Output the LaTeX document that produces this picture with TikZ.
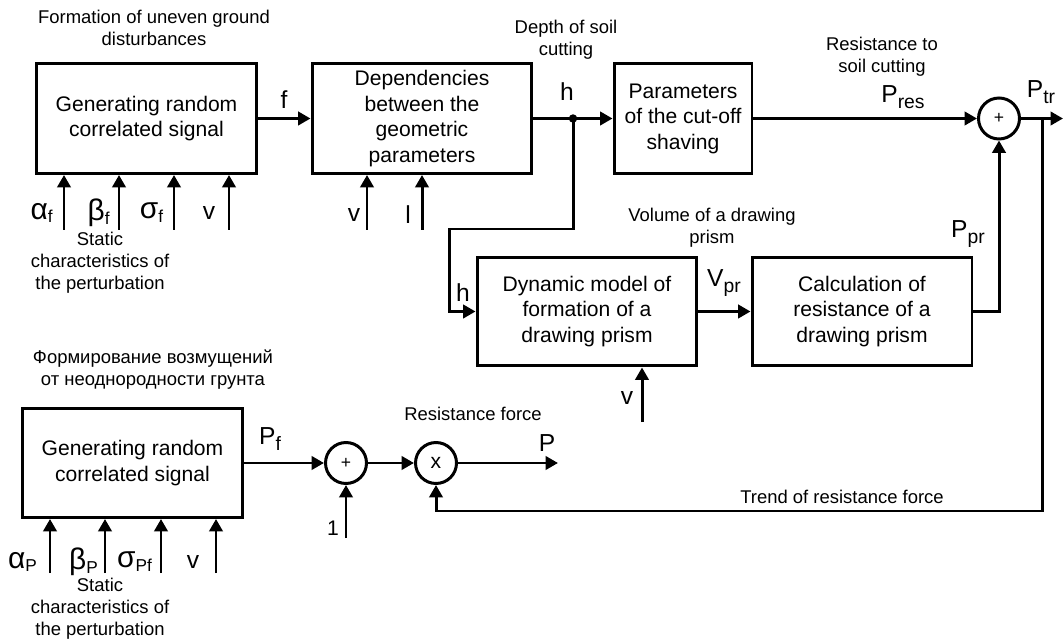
\documentclass[tikz,border=0pt]{standalone}
\usepackage{fontspec}
\setmainfont{Liberation Sans}
\usetikzlibrary{arrows.meta}
\newcommand{\lowsub}[1]{\raisebox{-3.5pt}{\fontsize{11}{11}\selectfont#1}}
\newcommand{\gr}[1]{{\fontsize{17}{17}\selectfont#1}}

\begin{document}
\begin{tikzpicture}[x=0.02cm, y=-0.02cm,
  box/.style={draw, line width=1.7pt, align=center, inner sep=0pt,
              font=\fontsize{12}{14.5}\selectfont, minimum height=2.2cm},
  sum/.style={draw, circle, line width=1.7pt, minimum size=0.82cm, inner sep=0pt},
  sig/.style={font=\fontsize{14}{16}\selectfont, inner sep=0pt},
  note/.style={align=center, font=\fontsize{10.5}{12.5}\selectfont, inner sep=0pt},
  arr/.style={-{Triangle[length=7pt, width=7.5pt]}, line width=1.7pt}]
\useasboundingbox (0,0) rectangle (1064,641);
% upper chain
\node[box, minimum width=4.42cm] (gen) at (146.5,118.5) {Generating random\\correlated signal};
\node[box, minimum width=4.4cm] (dep) at (422,118.5) {Dependencies\\between the\\geometric\\parameters};
\node[box, minimum width=2.76cm] (cut) at (683,118.5) {Parameters\\of the cut-off\\shaving};
\node[sum] (s1) at (999,118.5) {\fontsize{10}{10}\selectfont +};
\node[box, minimum width=4.4cm, minimum height=2.18cm] (dyn) at (587,311.5) {Dynamic model of\\formation of a\\drawing prism};
\node[box, minimum width=4.4cm, minimum height=2.18cm] (calc) at (862,311.5) {Calculation of\\resistance of a\\drawing prism};
% lower chain
\node[box, minimum width=4.42cm, minimum height=2.18cm] (gen2) at (132.5,463) {Generating random\\correlated signal};
\node[sum] (s2) at (346,463) {\fontsize{10}{10}\selectfont +};
\node[sum] (mul) at (436,463) {\fontsize{12}{12}\selectfont x};
\coordinate (dot) at (573,118.5);
\coordinate (hl) at (449,229);
\coordinate (out) at (1063,118.5);
\coordinate (tap) at (1042,118.5);
\coordinate (fb) at (1042,511);
\coordinate (pout) at (558,463);
\coordinate (one) at (346,538);
\coordinate (vin) at (642,422);
\draw[arr] (gen) -- (dep);
\draw[arr] (dep) -- (cut);
\fill (dot) circle (2.4pt);
\draw[arr] (dot) |- (hl) |- (dyn.west);
\draw[arr] (cut) -- (s1);
\draw[arr] (s1) -- (out);
\draw[arr] (dyn) -- (calc);
\draw[arr] (calc) -| (s1);
\draw[arr] (tap) -- (fb) -| (mul);
\draw[arr] (gen2) -- (s2);
\draw[arr] (s2) -- (mul);
\draw[arr] (mul) -- (pout);
\draw[arr] (one) -- (s2);
\draw[arr] (vin) -- (vin |- dyn.south);
% inputs
\foreach \x/\lx/\t in {64/42/{\gr{α}\textsubscript{f}}, 119/99/{\gr{β}\textsubscript{f}}, 174/152/{\gr{σ}\textsubscript{f}}, 229/209/v}{
  \coordinate (ia\x) at (\x,230);
  \draw[arr] (ia\x) -- (ia\x |- gen.south);
  \node[sig] (la\x) at (\lx,213) {\t};
}
\foreach \x/\lx/\t in {367/354/v, 422/408/l}{
  \coordinate (ib\x) at (\x,230);
  \draw[arr] (ib\x) -- (ib\x |- dep.south);
  \node[sig] (lb\x) at (\lx,215) {\t};
}
\foreach \x/\lx/\t in {50/23/{\gr{α}\textsubscript{P}}, 105/84/{\gr{β}\textsubscript{P}}, 161/135/{\gr{σ}\textsubscript{Pf}}, 216/193/v}{
  \coordinate (ic\x) at (\x,573);
  \draw[arr] (ic\x) -- (ic\x |- gen2.south);
  \node[sig] (lc\x) at (\lx,562) {\t};
}
% labels
\node[note] (tform) at (154,28) {Formation of uneven ground\\disturbances};
\node[sig] (lf) at (284,100) {f};
\node[note] (tdepth) at (566,40) {Depth of soil\\cutting};
\node[sig] (lh) at (567,92) {h};
\node[note] (tres) at (882,57) {Resistance to\\soil cutting};
\node[sig] (lpres) at (903,97) {P\lowsub{res}};
\node[sig] (lptr) at (1041,92) {P\lowsub{tr}};
\node[note] (tvol) at (712,228) {Volume of a drawing\\prism};
\node[sig] (lppr) at (968,234) {P\lowsub{pr}};
\node[sig] (lvpr) at (724,283) {V\lowsub{pr}};
\node[sig] (lh2) at (463,293) {h};
\node[sig] (lv3) at (627,398) {v};
\node[note] (tforce) at (473,414) {Resistance force};
\node[sig] (lpf) at (270,439) {P\lowsub{f}};
\node[sig] (lp) at (547,443) {P};
\node[note, font=\fontsize{12}{14}\selectfont] (lone) at (333,528) {1};
\node[note] (ttrend) at (842,497) {Trend of resistance force};
\node[note] (tru) at (153,370) {Формирование возмущений\\от неоднородности грунта};
\node[note] (tstat1) at (100,263) {Static\\characteristics of\\the perturbation};
\node[note] (tstat2) at (100,609) {Static\\characteristics of\\the perturbation};
\end{tikzpicture}
\end{document}
